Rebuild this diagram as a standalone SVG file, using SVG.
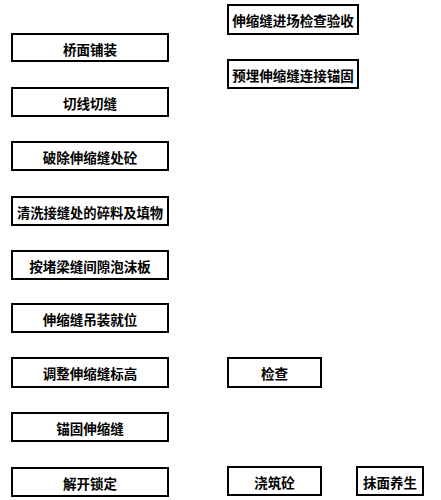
<svg xmlns="http://www.w3.org/2000/svg" width="441" height="500" viewBox="0 0 441 500">
<style>
rect.b{fill:#fff;stroke:#000;stroke-width:2}
text{font-family:"Noto Sans CJK SC","Noto Sans CJK JP",sans-serif;font-size:13.5px;font-weight:bold;fill:#000;text-anchor:middle;dominant-baseline:central}
</style>
<rect width="441" height="500" fill="#fff"/>
<g id="n1"><rect class="b" x="12" y="34" width="156" height="27"/><text x="90" y="48.5">桥面铺装</text></g>
<g id="n2"><rect class="b" x="12" y="88" width="156" height="28"/><text x="90" y="102.5">切线切缝</text></g>
<g id="n3"><rect class="b" x="12" y="142" width="156" height="28"/><text x="90" y="156.5">破除伸缩缝处砼</text></g>
<g id="n4"><rect class="b" x="12" y="197" width="156" height="28"/><text x="90" y="211.5" textLength="146" lengthAdjust="spacingAndGlyphs">清洗接缝处的碎料及填物</text></g>
<g id="n5"><rect class="b" x="12" y="251" width="156" height="28"/><text x="90" y="265.5">按堵梁缝间隙泡沫板</text></g>
<g id="n6"><rect class="b" x="12" y="304" width="156" height="28"/><text x="90" y="318.5">伸缩缝吊装就位</text></g>
<g id="n7"><rect class="b" x="12" y="358" width="156" height="29"/><text x="90" y="373">调整伸缩缝标高</text></g>
<g id="n8"><rect class="b" x="12" y="413" width="156" height="28"/><text x="90" y="427.5">锚固伸缩缝</text></g>
<g id="n9"><rect class="b" x="12" y="468" width="156" height="28"/><text x="90" y="482.5">解开锁定</text></g>
<g id="r1"><rect class="b" x="228" y="5" width="130" height="29"/><text x="293" y="20">伸缩缝进场检查验收</text></g>
<g id="r2"><rect class="b" x="228" y="60" width="130" height="28"/><text x="293" y="74.5">预埋伸缩缝连接锚固</text></g>
<g id="r3"><rect class="b" x="228" y="358" width="93" height="29"/><text x="274.5" y="373">检查</text></g>
<g id="r4"><rect class="b" x="228" y="467" width="93" height="28"/><text x="274.5" y="481.5">浇筑砼</text></g>
<g id="r5"><rect class="b" x="357" y="467" width="66" height="28"/><text x="390" y="481.5">抹面养生</text></g>
<g id="connectors"></g>
</svg>
